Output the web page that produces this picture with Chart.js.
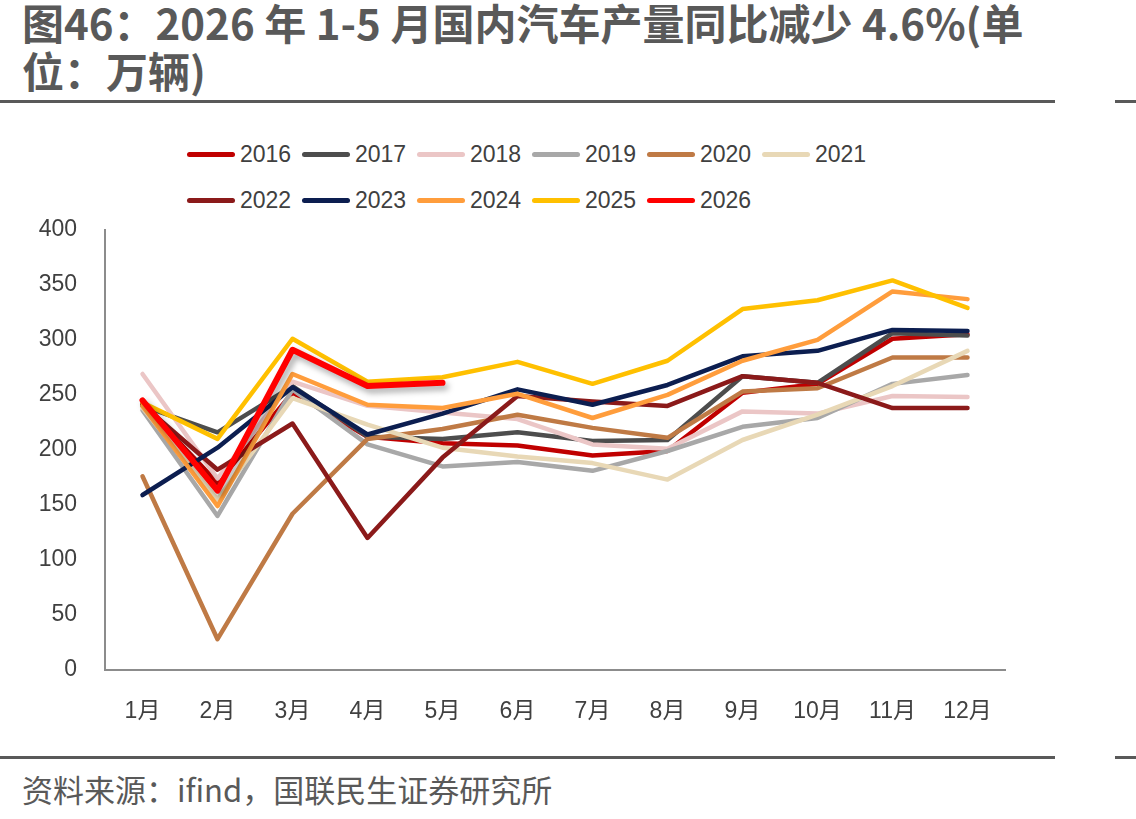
<!DOCTYPE html>
<html>
<head>
<meta charset="utf-8">
<script src="https://cdn.jsdelivr.net/npm/chart.js@4.4.1/dist/chart.umd.min.js"></script>
<style>
  body { margin: 0; width: 1136px; height: 819px; background: #fff; position: relative; overflow: hidden; font-family: "Liberation Sans", "Noto Sans CJK SC", sans-serif; }
  #title { position: absolute; left: 22px; top: -2px; font: bold 42px/48px "Noto Sans CJK SC", sans-serif; color: #595959; white-space: nowrap; }
  .rule { position: absolute; height: 3px; background: #595959; }
  #source { position: absolute; left: 22px; top: 769px; font: 31px/40px "Noto Sans CJK SC", sans-serif; color: #595959; white-space: nowrap; }
  #legend { position: absolute; left: 187px; top: 131px; }
  .row { height: 46px; display: flex; align-items: center; }
  .item { width: 115px; display: flex; align-items: center; font-size: 23px; color: #404040; }
  .swatch { width: 48px; height: 5px; border-radius: 3px; margin-right: 5px; }
  #wrap { position: absolute; left: 0; top: 196px; width: 1040px; height: 549px; }
</style>
</head>
<body>
<div id="title">图46：2026 年 1-5 月国内汽车产量同比减少 4.6%(单<br>位：万辆)</div>
<div class="rule" style="left:0;top:100px;width:1055px"></div>
<div class="rule" style="left:1115px;top:100px;width:21px"></div>
<div id="legend"></div>
<div id="wrap"><canvas id="chart"></canvas></div>
<div class="rule" style="left:0;top:756px;width:1055px"></div>
<div class="rule" style="left:1115px;top:756px;width:21px"></div>
<div id="source">资料来源：ifind，国联民生证券研究所</div>

<script>
const months = ['1月', '2月', '3月', '4月', '5月', '6月', '7月', '8月', '9月', '10月', '11月', '12月'];

const y2016 = [242, 170, 252, 212, 206, 204, 195, 199, 252, 260, 301, 305];
const y2017 = [240, 216, 258, 212, 210, 216, 208, 209, 267, 261, 306, 304];
const y2018 = [269, 174, 262, 240, 234, 228, 205, 201, 235, 233, 249, 248];
const y2019 = [236, 140, 255, 205, 185, 189, 181, 199, 221, 229, 260, 268];
const y2020 = [176, 28, 142, 210, 219, 232, 220, 211, 253, 256, 284, 284];
const y2021 = [238, 155, 247, 223, 202, 194, 188, 173, 209, 232, 258, 290];
const y2022 = [241, 182, 224, 120, 193, 249, 244, 240, 267, 261, 238, 238];
const y2023 = [159, 202, 257, 214, 233, 255, 241, 259, 285, 290, 309, 308];
const y2024 = [240, 149, 269, 241, 238, 251, 229, 250, 281, 300, 344, 337];
const y2025 = [243, 210, 301, 262, 266, 280, 260, 281, 328, 336, 354, 329];
const y2026 = [245, 163, 291, 258, 261];

const years = ['2016', '2017', '2018', '2019', '2020', '2021', '2022', '2023', '2024', '2025', '2026'];
const values = [y2016, y2017, y2018, y2019, y2020, y2021, y2022, y2023, y2024, y2025, y2026];
const colors = ['#C00000', '#4D4D4D', '#EBC6C6', '#A8A8A8', '#BF7A45', '#E8D8B6',
                '#8B1A1A', '#0C1E50', '#FF9D3C', '#FFC000', '#FF0000'];

const datasets = years.map((yr, i) => ({
  label: yr,
  data: values[i],
  borderColor: colors[i],
  backgroundColor: colors[i],
  borderWidth: yr === '2026' ? 6 : 4.5,
  pointRadius: 0,
  tension: 0,
  borderCapStyle: 'round',
  borderJoinStyle: 'round',
  order: years.length - 1 - i
}));

// legend rows like the original: 6 on the first row, 5 on the second
const legendEl = document.getElementById('legend');
[years.slice(0, 6), years.slice(6)].forEach((rowYears, r) => {
  const row = document.createElement('div');
  row.className = 'row';
  rowYears.forEach((yr, j) => {
    const idx = r * 6 + j;
    const item = document.createElement('div');
    item.className = 'item';
    item.innerHTML = '<span class="swatch" style="background:' + colors[idx] + '"></span>' + yr;
    row.appendChild(item);
  });
  legendEl.appendChild(row);
});

const shadowPlugin = {
  id: 'shadow2026',
  beforeDatasetDraw(chart, args) {
    if (chart.data.datasets[args.index].label !== '2026') return;
    const ctx = chart.ctx;
    ctx.save();
    ctx.shadowColor = 'rgba(0,0,0,0.35)';
    ctx.shadowBlur = 6;
    ctx.shadowOffsetX = 3;
    ctx.shadowOffsetY = 4;
  },
  afterDatasetDraw(chart, args) {
    if (chart.data.datasets[args.index].label !== '2026') return;
    chart.ctx.restore();
  }
};

const tickFont = { family: '"Liberation Sans", "Noto Sans CJK SC", sans-serif', size: 23 };

new Chart(document.getElementById('chart'), {
  type: 'line',
  data: { labels: months, datasets: datasets },
  plugins: [shadowPlugin],
  options: {
    responsive: true,
    maintainAspectRatio: false,
    animation: false,
    layout: { padding: { top: 13, right: 35, left: 0, bottom: 0 } },
    plugins: {
      legend: { display: false },
      tooltip: { enabled: false }
    },
    scales: {
      x: {
        offset: true,
        grid: { display: false },
        border: { display: true, color: '#8C8C8C', width: 2 },
        ticks: { color: '#404040', font: tickFont, padding: 20, maxRotation: 0 },
        afterFit: s => { s.height = 75; }
      },
      y: {
        min: 0,
        max: 400,
        grid: { display: false },
        border: { display: true, color: '#8C8C8C', width: 2 },
        ticks: { stepSize: 50, color: '#404040', font: tickFont, padding: 20 },
        afterFit: s => { s.width = 105; }
      }
    }
  }
});
</script>
</body>
</html>
